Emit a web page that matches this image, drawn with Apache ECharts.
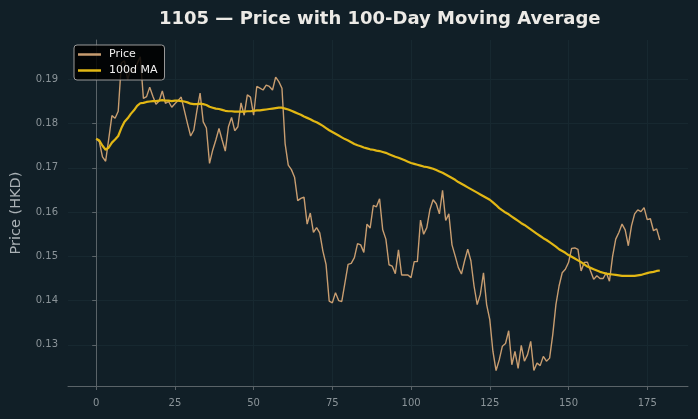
<!DOCTYPE html>
<html>
<head>
<meta charset="utf-8">
<script src="https://cdn.jsdelivr.net/npm/echarts@6/dist/echarts.min.js"></script>
<style>
html,body{margin:0;padding:0;background:#111f27;}
#chart{width:698px;height:419px;}
</style>
</head>
<body>
<div id="chart"></div>
<script>
// Price (HKD), one value per trading day (x = 0..179)
var price = [
0.1766,0.1759,0.1725,0.1715,0.1766,0.1818,0.1812,0.1828,0.1937,0.1942,
0.1899,0.1925,0.1915,0.1935,0.1951,0.1857,0.1861,0.1882,0.1862,0.1844,
0.1851,0.1874,0.1846,0.1850,0.1837,0.1845,0.1852,0.1860,0.1830,0.1800,
0.1772,0.1785,0.1830,0.1869,0.1804,0.1790,0.1710,0.1740,0.1763,0.1789,
0.1763,0.1738,0.1793,0.1814,0.1784,0.1793,0.1847,0.1819,0.1865,0.1860,
0.1819,0.1884,0.1880,0.1876,0.1887,0.1884,0.1876,0.1905,0.1895,0.1880,
0.1755,0.1706,0.1696,0.1679,0.1626,0.1631,0.1634,0.1573,0.1598,0.1554,
0.1565,0.1553,0.1512,0.1482,0.1399,0.1395,0.1418,0.1400,0.1398,0.1440,
0.1482,0.1484,0.1497,0.1529,0.1526,0.1509,0.1573,0.1564,0.1615,0.1612,
0.1630,0.1560,0.1539,0.1481,0.1478,0.1461,0.1515,0.1458,0.1458,0.1458,
0.1452,0.1488,0.1488,0.1582,0.1550,0.1565,0.1606,0.1628,0.1619,0.1596,
0.1649,0.1581,0.1596,0.1526,0.1501,0.1475,0.1460,0.1490,0.1516,0.1490,
0.1433,0.1391,0.1414,0.1463,0.1391,0.1357,0.1285,0.1242,0.1266,0.1297,
0.1303,0.1332,0.1255,0.1285,0.1247,0.1299,0.1263,0.1278,0.1308,0.1242,
0.1259,0.1253,0.1274,0.1263,0.1270,0.1323,0.1391,0.1433,0.1463,0.1471,
0.1486,0.1518,0.1519,0.1516,0.1467,0.1486,0.1487,0.1467,0.1448,0.1456,
0.1450,0.1450,0.1463,0.1444,0.1500,0.1539,0.1554,0.1573,0.1560,0.1524,
0.1569,0.1596,0.1605,0.1601,0.1610,0.1583,0.1585,0.1558,0.1562,0.1537
];
// 100-day moving average
var ma100 = [
0.1766,0.1762,0.1750,0.1741,0.1746,0.1757,0.1764,0.1772,0.1790,0.1804,
0.1812,0.1822,0.1830,0.1840,0.1846,0.1847,0.1849,0.1850,0.1851,0.1851,
0.1852,0.1853,0.1852,0.1852,0.1851,0.1852,0.1852,0.1851,0.1850,0.1848,
0.1845,0.1844,0.1844,0.1845,0.1844,0.1842,0.1838,0.1836,0.1834,0.1833,
0.1831,0.1829,0.1828,0.1828,0.1827,0.1827,0.1827,0.1827,0.1828,0.1828,
0.1829,0.1830,0.1830,0.1831,0.1832,0.1833,0.1834,0.1835,0.1836,0.1836,
0.1834,0.1832,0.1829,0.1826,0.1823,0.1820,0.1816,0.1813,0.1810,0.1806,
0.1803,0.1799,0.1795,0.1790,0.1785,0.1781,0.1777,0.1773,0.1769,0.1765,
0.1762,0.1758,0.1754,0.1751,0.1749,0.1746,0.1744,0.1742,0.1741,0.1739,
0.1738,0.1736,0.1734,0.1731,0.1728,0.1725,0.1723,0.1720,0.1717,0.1714,
0.1711,0.1709,0.1707,0.1705,0.1703,0.1702,0.1700,0.1698,0.1695,0.1692,
0.1689,0.1685,0.1681,0.1677,0.1673,0.1668,0.1664,0.1660,0.1656,0.1652,
0.1648,0.1644,0.1640,0.1636,0.1632,0.1628,0.1622,0.1616,0.1609,0.1604,
0.1599,0.1595,0.1590,0.1585,0.1580,0.1575,0.1571,0.1566,0.1561,0.1556,
0.1551,0.1546,0.1541,0.1537,0.1532,0.1527,0.1522,0.1516,0.1512,0.1508,
0.1503,0.1499,0.1495,0.1491,0.1487,0.1482,0.1477,0.1474,0.1471,0.1468,
0.1465,0.1463,0.1461,0.1460,0.1459,0.1458,0.1457,0.1456,0.1456,0.1456,
0.1456,0.1456,0.1457,0.1458,0.1460,0.1462,0.1464,0.1465,0.1467,0.1468
];
var xTicks = [0, 25, 50, 75, 100, 125, 150, 175];
var yTicks = [0.13, 0.14, 0.15, 0.16, 0.17, 0.18, 0.19];

var pricePts = price.map(function (v, i) { return [i, v]; });
var maPts = ma100.map(function (v, i) { return [i, v]; });

var chart = echarts.init(document.getElementById('chart'), null, {renderer: 'canvas'});
var axisGrey = '#5a6368';
var labelGrey = '#8b9499';
chart.setOption({
  backgroundColor: '#111f27',
  animation: false,
  title: {
    text: '1105 — Price with 100-Day Moving Average',
    left: 154, top: 5,
    textStyle: {color: '#eceae6', fontFamily: 'DejaVu Sans', fontWeight: 'bold', fontSize: 18}
  },
  legend: {
    left: 74, top: 45, orient: 'vertical',
    backgroundColor: 'rgba(0,0,0,0.85)', borderColor: '#9a9a9a', borderWidth: 1, borderRadius: 3,
    padding: [3, 7, 3, 4], itemGap: 3, itemWidth: 23, itemHeight: 2.5, icon: 'rect',
    textStyle: {color: '#f0f0f0', fontFamily: 'DejaVu Sans', fontSize: 11, lineHeight: 13, padding: [0, 0, 0, 3]},
    data: ['Price', '100d MA']
  },
  grid: {left: 68, right: 10, top: 40, bottom: 33, containLabel: false, outerBoundsMode: 'none'},
  xAxis: {
    type: 'value', min: -8.95, max: 187.95,
    axisLine: {show: true, lineStyle: {color: axisGrey, width: 1}},
    axisTick: {show: true, length: 4, lineStyle: {color: axisGrey}, customValues: xTicks},
    axisLabel: {color: labelGrey, fontFamily: 'DejaVu Sans', fontSize: 10, margin: 12, customValues: xTicks},
    splitLine: {show: true, lineStyle: {color: '#172830', width: 1}}
  },
  yAxis: {
    type: 'value', min: 0.1207, max: 0.1989,
    name: 'Price (HKD)', nameLocation: 'middle', nameGap: 44,
    nameTextStyle: {color: '#aab1b5', fontFamily: 'DejaVu Sans', fontSize: 14.5},
    axisLine: {show: true, lineStyle: {color: axisGrey, width: 1}},
    axisTick: {show: true, length: 4, lineStyle: {color: axisGrey}, customValues: yTicks},
    axisLabel: {color: labelGrey, fontFamily: 'DejaVu Sans', fontSize: 10, margin: 10, customValues: yTicks,
      formatter: function (v) { return v.toFixed(2); }},
    splitLine: {show: true, lineStyle: {color: '#172830', width: 1}}
  },
  series: [
    {name: 'Price', type: 'line', data: pricePts, symbol: 'none',
     lineStyle: {color: '#c89d70', width: 1.4}, itemStyle: {color: '#c89d70'}, z: 2},
    {name: '100d MA', type: 'line', data: maPts, symbol: 'none', smooth: false,
     lineStyle: {color: '#e2b714', width: 2.2}, itemStyle: {color: '#e2b714'}, z: 3}
  ]
});
</script>
</body>
</html>
